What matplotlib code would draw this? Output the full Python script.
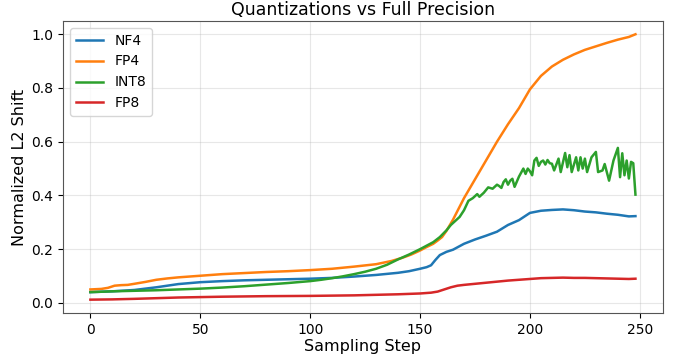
import matplotlib
matplotlib.use('Agg')
import matplotlib.pyplot as plt

# values (step, normalized L2 shift)
nf4_steps = [0, 10, 20, 30, 40, 50, 60, 70, 80, 90, 100, 110, 120, 130, 135, 140, 145, 150, 153,
             155, 157, 159, 162, 165, 170, 175, 180, 185, 190, 195, 200, 205, 210, 215, 220, 225,
             230, 235, 240, 245, 248]
nf4_vals = [0.040, 0.043, 0.048, 0.058, 0.070, 0.077, 0.081, 0.084, 0.086, 0.088, 0.090, 0.093,
            0.098, 0.104, 0.108, 0.112, 0.118, 0.127, 0.133, 0.140, 0.160, 0.178, 0.190, 0.198,
            0.220, 0.236, 0.250, 0.265, 0.290, 0.308, 0.335, 0.343, 0.346, 0.348, 0.345, 0.340,
            0.337, 0.332, 0.328, 0.322, 0.323]

fp4_steps = [0, 5, 8, 11, 14, 17, 20, 25, 30, 35, 40, 45, 50, 60, 70, 80, 90, 100, 110, 120, 130,
             137, 142, 146, 150, 153, 156, 158, 160, 162, 165, 170, 175, 180, 185, 190, 195, 200,
             205, 210, 215, 220, 225, 230, 235, 240, 245, 248]
fp4_vals = [0.050, 0.052, 0.056, 0.064, 0.066, 0.067, 0.071, 0.078, 0.086, 0.091, 0.095, 0.098,
            0.101, 0.107, 0.111, 0.115, 0.118, 0.122, 0.127, 0.135, 0.144, 0.156, 0.168, 0.180,
            0.195, 0.208, 0.220, 0.232, 0.245, 0.268, 0.310, 0.390, 0.460, 0.530, 0.600, 0.665,
            0.725, 0.795, 0.845, 0.880, 0.905, 0.925, 0.942, 0.955, 0.968, 0.980, 0.990, 1.000]

int8_steps = [0, 10, 20, 30, 40, 50, 60, 70, 80, 90, 100, 105, 110, 115, 120, 125, 130, 135, 140,
              145, 150, 153, 156, 159, 162, 164, 166, 168, 170, 172, 174, 176, 177, 179, 181, 183,
              185, 186, 187, 188, 189, 190, 191, 192, 193, 195, 197, 198, 199, 200, 201, 202, 203,
              204, 205, 206, 207, 208, 209, 210, 211, 213, 214, 216, 217, 218, 219, 221, 222, 223,
              224, 225, 226, 228, 230, 231, 233, 234, 236, 238, 240, 241, 242, 243, 244, 245, 246,
              247, 248]
int8_vals = [0.040, 0.043, 0.045, 0.047, 0.050, 0.053, 0.057, 0.062, 0.068, 0.074, 0.081, 0.086,
             0.092, 0.099, 0.107, 0.116, 0.127, 0.142, 0.162, 0.180, 0.200, 0.213, 0.226, 0.245,
             0.270, 0.290, 0.305, 0.320, 0.345, 0.380, 0.390, 0.405, 0.395, 0.410, 0.430, 0.425,
             0.440, 0.435, 0.428, 0.450, 0.460, 0.440, 0.455, 0.462, 0.432, 0.470, 0.500, 0.480,
             0.500, 0.490, 0.475, 0.530, 0.540, 0.510, 0.525, 0.530, 0.515, 0.532, 0.520, 0.518,
             0.493, 0.537, 0.487, 0.558, 0.505, 0.550, 0.487, 0.542, 0.493, 0.542, 0.500, 0.537,
             0.487, 0.542, 0.562, 0.487, 0.493, 0.517, 0.455, 0.530, 0.577, 0.468, 0.557, 0.475,
             0.530, 0.463, 0.525, 0.520, 0.403]

fp8_steps = [0, 10, 20, 40, 60, 80, 100, 120, 140, 150, 155, 158, 161, 164, 167, 170, 175, 180,
             185, 190, 195, 200, 205, 210, 215, 220, 225, 230, 235, 240, 245, 248]
fp8_vals = [0.012, 0.013, 0.015, 0.020, 0.023, 0.025, 0.026, 0.028, 0.032, 0.035, 0.038, 0.042,
            0.050, 0.058, 0.064, 0.067, 0.071, 0.075, 0.079, 0.083, 0.086, 0.089, 0.092, 0.093,
            0.094, 0.093, 0.093, 0.092, 0.091, 0.090, 0.089, 0.090]

fig, ax = plt.subplots(figsize=(6.79, 3.56), dpi=100)
fig.subplots_adjust(left=0.093, right=0.976, top=0.941, bottom=0.121)

ax.plot(nf4_steps, nf4_vals, color='#1f77b4', lw=1.8, label='NF4')
ax.plot(fp4_steps, fp4_vals, color='#ff7f0e', lw=1.8, label='FP4')
ax.plot(int8_steps, int8_vals, color='#2ca02c', lw=1.8, label='INT8')
ax.plot(fp8_steps, fp8_vals, color='#d62728', lw=1.8, label='FP8')

ax.set_title('Quantizations vs Full Precision', fontsize=12.5, pad=4)
ax.set_xlabel('Sampling Step', fontsize=11.5, labelpad=2)
ax.set_ylabel('Normalized L2 Shift', fontsize=11.5, labelpad=3)
ax.tick_params(labelsize=10)
ax.grid(True, alpha=0.3)
for s in ax.spines.values():
    s.set_color('#555555')
ax.legend(loc='upper left', fontsize=10)

plt.savefig('out.png')
